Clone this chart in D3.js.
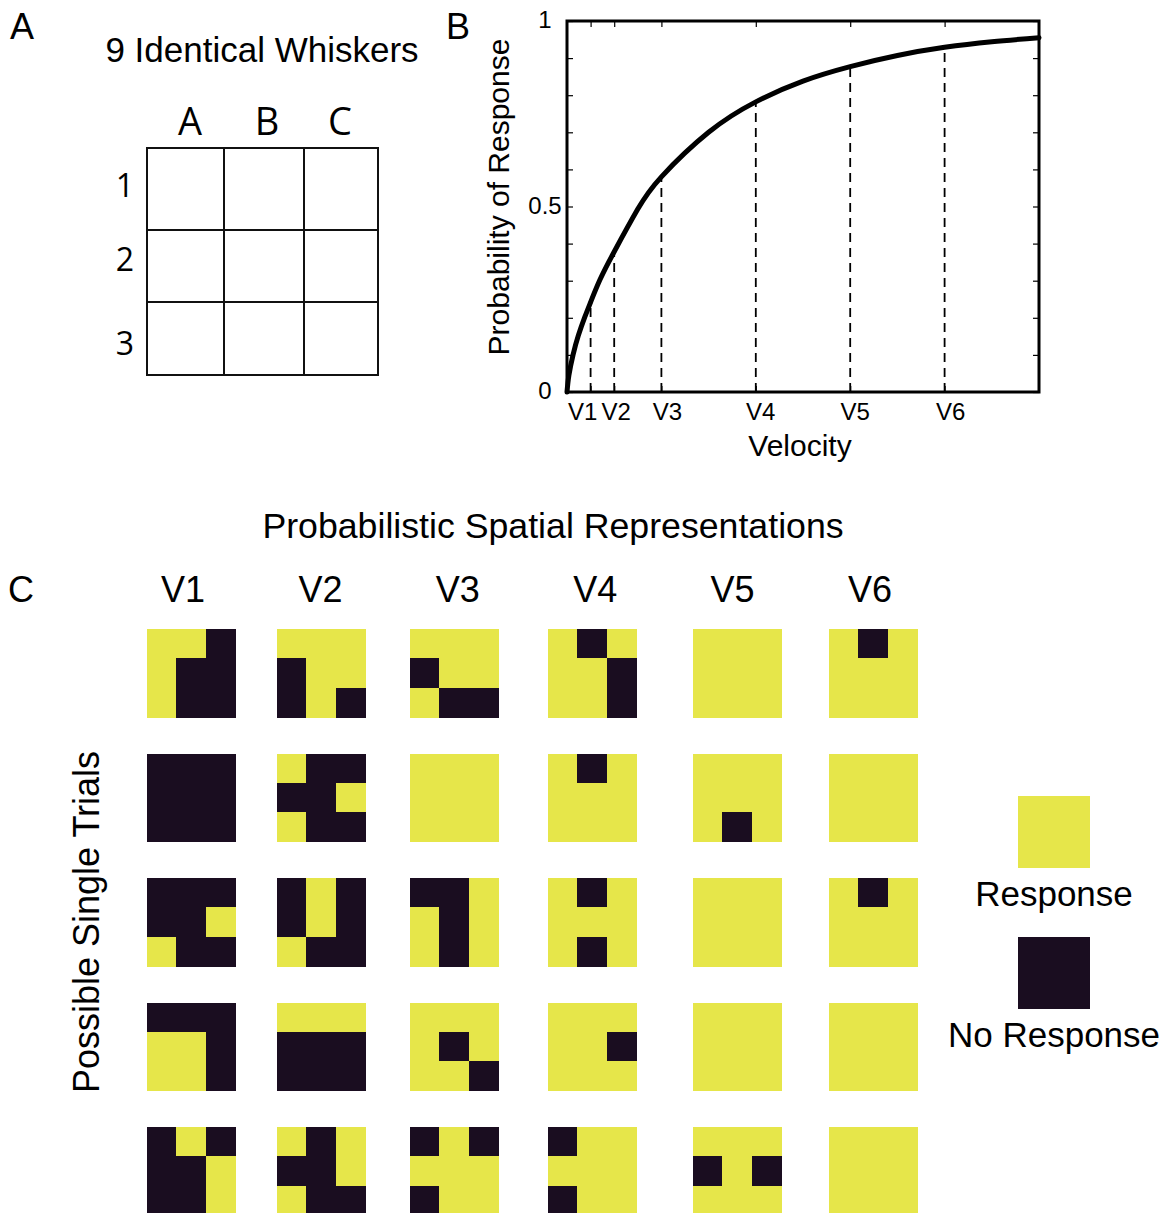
<!DOCTYPE html>
<html>
<head>
<meta charset="utf-8">
<script src="https://cdn.jsdelivr.net/npm/d3@7"></script>
<style>
  html, body { margin: 0; padding: 0; background: #fff; }
  svg { display: block; }
  text { font-family: "Liberation Sans", Arial, sans-serif; fill: #000; }
  .os { font-family: "Open Sans", "Liberation Sans", sans-serif; }
</style>
</head>
<body>
<script>
// ---------------- DATA ----------------
const panelLetters = ["A", "B", "C"];
const whiskerCols = ["A", "B", "C"];
const whiskerRows = ["1", "2", "3"];
const panelATitle = "9 Identical Whiskers";

const velocityLabels = ["V1", "V2", "V3", "V4", "V5", "V6"];
const velocityValues = [0.25, 0.5, 1, 2, 3, 4];
const velocityProb = [0.24, 0.375, 0.58, 0.782, 0.877, 0.929];
const yTickValues = [0, 0.1, 0.2, 0.3, 0.4, 0.5, 0.6, 0.7, 0.8, 0.9, 1];
const yTickLabels = ["0", "0.5", "1"];
const curveX = [0, 0.02, 0.064, 0.12, 0.19, 0.25, 0.35, 0.5, 0.75, 1, 1.5, 2, 2.5, 3, 3.5, 4, 4.5, 5];
const curveY = [0, 0.045, 0.1, 0.152, 0.203, 0.242, 0.303, 0.378, 0.493, 0.58, 0.70, 0.782, 0.838, 0.877, 0.907, 0.929, 0.944, 0.955];

const panelCTitle = "Probabilistic Spatial Representations";
const trialAxisLabel = "Possible Single Trials";
// each string: 3x3 whiskers row by row, "1" = response, "0" = no response
const trialPatterns = [
  ["110100100", "111011010", "111011100", "101110110", "111111111", "101111111"],
  ["000000000", "100001100", "111111111", "101111111", "111111101", "111111111"],
  ["000001100", "010010100", "001101101", "101111101", "111111111", "101111111"],
  ["000110110", "111000000", "111101110", "111110111", "111111111", "111111111"],
  ["010001001", "101001100", "010111011", "011111011", "111010111", "111111111"]
];
const legendLabels = ["Response", "No Response"];
const legendStates = ["1", "0"];

// ---------------- STYLE ----------------
const colorResp = "#e6e64a";
const colorNo = "#1a0d20";
const stateColor = d3.scaleOrdinal().domain(["1", "0"]).range([colorResp, colorNo]);

const W = 1171, H = 1213;
const svg = d3.select("body").append("svg").attr("width", W).attr("height", H);
svg.append("rect").attr("width", W).attr("height", H).attr("fill", "#fff");

// panel letters
const letterPos = d3.scaleOrdinal().domain(panelLetters).range([[10, 39], [446, 39], [8, 602]]);
svg.selectAll("text.panel").data(panelLetters).join("text")
  .attr("class", "panel")
  .attr("x", d => letterPos(d)[0]).attr("y", d => letterPos(d)[1])
  .attr("font-size", 36).text(d => d);

// ---------------- PANEL A ----------------
const gA = svg.append("g");
gA.append("text").attr("x", 262).attr("y", 62).attr("text-anchor", "middle")
  .attr("font-size", 35).text(panelATitle);

const edgeX = d3.scaleOrdinal().domain([0, 1, 2, 3]).range([147, 224, 304, 378]);
const edgeY = d3.scaleOrdinal().domain([0, 1, 2, 3]).range([148, 230, 302, 375]);
gA.selectAll("rect.cellA").data(d3.cross(d3.range(3), d3.range(3))).join("rect")
  .attr("class", "cellA")
  .attr("x", d => edgeX(d[1])).attr("y", d => edgeY(d[0]))
  .attr("width", d => edgeX(d[1] + 1) - edgeX(d[1]))
  .attr("height", d => edgeY(d[0] + 1) - edgeY(d[0]))
  .attr("fill", "none").attr("stroke", "#111").attr("stroke-width", 2);

const colLabX = d3.scaleOrdinal().domain(whiskerCols).range([190, 267, 340]);
gA.selectAll("text.colA").data(whiskerCols).join("text")
  .attr("class", "colA os")
  .attr("x", d => colLabX(d)).attr("y", 135)
  .attr("text-anchor", "middle").attr("font-size", 38).text(d => d);
const rowLabY = d3.scaleOrdinal().domain(whiskerRows).range([197, 271, 355]);
gA.selectAll("text.rowA").data(whiskerRows).join("text")
  .attr("class", "rowA os")
  .attr("x", 125).attr("y", d => rowLabY(d))
  .attr("text-anchor", "middle").attr("font-size", 32).text(d => d);

// ---------------- PANEL B ----------------
const gB = svg.append("g");
const xB = d3.scaleLinear().domain([0, 5]).range([567, 1039]);
const yB = d3.scaleLinear().domain([0, 1]).range([392, 21]);

// dashed verticals
gB.selectAll("line.vdash").data(velocityValues).join("line")
  .attr("class", "vdash")
  .attr("x1", d => xB(d)).attr("x2", d => xB(d))
  .attr("y1", yB(0)).attr("y2", (d, i) => yB(velocityProb[i]))
  .attr("stroke", "#000").attr("stroke-width", 1.8).attr("stroke-dasharray", "9,6");

// curve
const curvePts = curveX.map((x, i) => [x, curveY[i]]);
gB.append("path").datum(curvePts)
  .attr("d", d3.line().x(d => xB(d[0])).y(d => yB(d[1])).curve(d3.curveNatural))
  .attr("fill", "none").attr("stroke", "#000").attr("stroke-width", 5)
  .attr("stroke-linecap", "round");

// axes (inward ticks)
const bottomAx = gB.append("g").attr("transform", `translate(0,${yB(0)})`)
  .call(d3.axisBottom(xB).tickValues(velocityValues).tickSize(-6).tickFormat(""));
const topAx = gB.append("g").attr("transform", `translate(0,${yB(1)})`)
  .call(d3.axisTop(xB).tickValues(velocityValues).tickSize(-6).tickFormat(""));
const leftAx = gB.append("g").attr("transform", `translate(${xB(0)},0)`)
  .call(d3.axisLeft(yB).tickValues(yTickValues).tickSize(-6).tickFormat(""));
const rightAx = gB.append("g").attr("transform", `translate(${xB(5)},0)`)
  .call(d3.axisRight(yB).tickValues(yTickValues).tickSize(-6).tickFormat(""));
[bottomAx, topAx, leftAx, rightAx].forEach(a => {
  a.select(".domain").remove();
  a.selectAll(".tick line").attr("stroke", "#000").attr("stroke-width", 1.2);
});
gB.append("rect")
  .attr("x", xB(0)).attr("y", yB(1))
  .attr("width", xB(5) - xB(0)).attr("height", yB(0) - yB(1))
  .attr("fill", "none").attr("stroke", "#000").attr("stroke-width", 3);

// tick labels
const vLabelShift = d3.scaleOrdinal().domain(velocityLabels).range([-8, 2, 6, 5, 5, 6]);
gB.selectAll("text.vlab").data(velocityLabels).join("text")
  .attr("class", "vlab")
  .attr("x", (d, i) => xB(velocityValues[i]) + vLabelShift(d)).attr("y", 420)
  .attr("text-anchor", "middle").attr("font-size", 24).text(d => d);
gB.selectAll("text.ylab").data(yTickLabels).join("text")
  .attr("class", "ylab")
  .attr("x", 545).attr("y", d => yB(+d) + 7)
  .attr("text-anchor", "middle").attr("font-size", 24).text(d => d);

gB.append("text").attr("x", 800).attr("y", 456).attr("text-anchor", "middle")
  .attr("font-size", 30).text("Velocity");
gB.append("text").attr("transform", "translate(509,197) rotate(-90)")
  .attr("text-anchor", "middle").attr("font-size", 30).text("Probability of Response");

// ---------------- PANEL C ----------------
const gC = svg.append("g");
gC.append("text").attr("x", 553).attr("y", 538).attr("text-anchor", "middle")
  .attr("font-size", 35.7).text(panelCTitle);

const labX = d3.scalePoint().domain(velocityLabels).range([183, 870]);
gC.selectAll("text.clab").data(velocityLabels).join("text")
  .attr("class", "clab")
  .attr("x", d => labX(d)).attr("y", 602)
  .attr("text-anchor", "middle").attr("font-size", 36).text(d => d);

gC.append("text").attr("transform", "translate(99,922) rotate(-90)")
  .attr("text-anchor", "middle").attr("font-size", 36).text(trialAxisLabel);

const gridX = d3.scaleOrdinal().domain(velocityLabels).range([147, 277, 410, 548, 693, 829]);
const gridY = d3.scaleLinear().domain([0, 1]).range([629, 753.5]);
const cell = d3.scaleBand().domain([0, 1, 2]).range([0, 88]);

const cells = [];
trialPatterns.forEach((row, t) => row.forEach((pat, v) => {
  pat.split("").forEach((s, k) => cells.push({ t, v: velocityLabels[v], r: Math.floor(k / 3), c: k % 3, s }));
}));
gC.selectAll("rect.tcell").data(cells).join("rect")
  .attr("class", "tcell")
  .attr("x", d => gridX(d.v) + cell(d.c))
  .attr("y", d => gridY(d.t) + cell(d.r))
  .attr("width", cell.bandwidth() + 0.5).attr("height", cell.bandwidth() + 0.5)
  .attr("shape-rendering", "crispEdges")
  .attr("fill", d => stateColor(d.s));

// legend
const legY = d3.scaleOrdinal().domain(legendStates).range([796, 937]);
gC.selectAll("rect.leg").data(legendStates).join("rect")
  .attr("class", "leg")
  .attr("x", 1018).attr("y", d => legY(d)).attr("width", 72).attr("height", 72)
  .attr("fill", d => stateColor(d));
gC.selectAll("text.legt").data(legendLabels).join("text")
  .attr("class", "legt")
  .attr("x", 1054).attr("y", (d, i) => legY(legendStates[i]) + 110)
  .attr("text-anchor", "middle").attr("font-size", 35).text(d => d);
</script>
</body>
</html>
